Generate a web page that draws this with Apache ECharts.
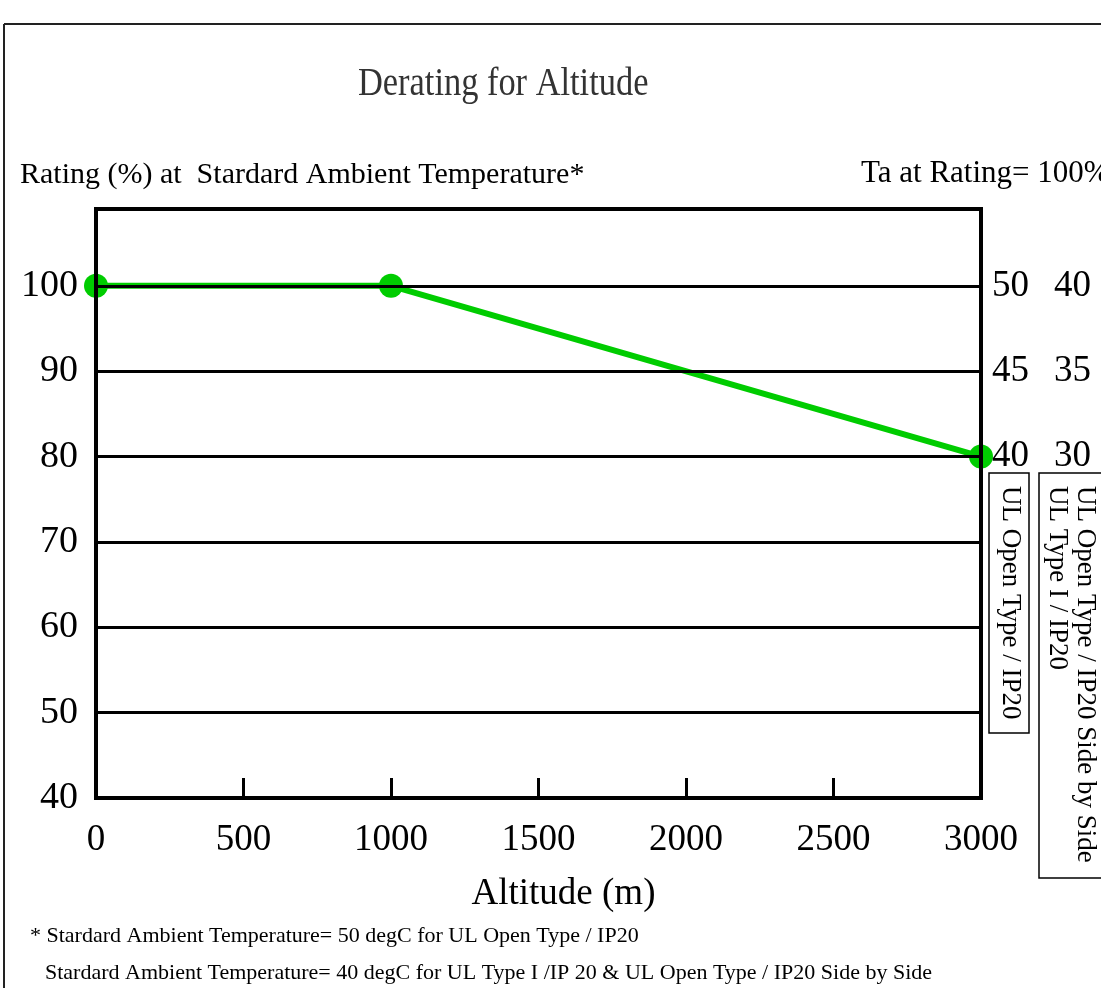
<!DOCTYPE html>
<html>
<head>
<meta charset="utf-8">
<script src="https://cdn.jsdelivr.net/npm/echarts@6/dist/echarts.min.js"></script>
<style>
  html, body { margin: 0; padding: 0; background: #fff; }
  #chart { width: 1101px; height: 988px; }
</style>
</head>
<body>
<div id="chart"></div>
<script>
// Derating curve: rating (%) versus altitude (m)
const altitudes = [0, 1000, 3000];
const ratings = [100, 100, 80];

// Axis ticks
const altitudeTicks = [0, 500, 1000, 1500, 2000, 2500, 3000];
const ratingTicks = [40, 50, 60, 70, 80, 90, 100];

// Ambient temperature at 100% rating, keyed by left-axis rating value
const taOpenType = { 100: '50', 90: '45', 80: '40' };
const taSideBySide = { 100: '40', 90: '35', 80: '30' };

const SERIF = '"Liberation Serif", "Times New Roman", serif';

const chart = echarts.init(document.getElementById('chart'), null, { renderer: 'canvas' });

const points = altitudes.map((a, i) => [a, ratings[i]]);

const option = {
  backgroundColor: '#ffffff',
  animation: false,
  grid: {
    left: 96, right: 120, top: 209, bottom: 190,
    show: true, borderColor: '#000', borderWidth: 4, backgroundColor: 'transparent'
  },
  xAxis: {
    type: 'value',
    min: altitudeTicks[0],
    max: altitudeTicks[altitudeTicks.length - 1],
    interval: 500,
    name: 'Altitude (m)',
    nameLocation: 'middle',
    nameGap: 78,
    nameTextStyle: { fontFamily: SERIF, fontSize: 37, color: '#000', padding: [0, 0, 0, 50] },
    axisLine: { show: true, lineStyle: { color: '#000', width: 4 } },
    axisTick: { show: true, inside: true, length: 20, lineStyle: { color: '#000', width: 3 } },
    axisLabel: {
      fontFamily: SERIF, fontSize: 37, color: '#000', margin: 24,
      formatter: v => String(v)
    },
    splitLine: { show: false },
    z: 3
  },
  yAxis: [
    {
      type: 'value',
      min: ratingTicks[0],
      max: 109,
      interval: 10,
      position: 'left',
      axisLine: { show: true, lineStyle: { color: '#000', width: 4 } },
      axisTick: { show: false },
      axisLabel: {
        fontFamily: SERIF, fontSize: 38, color: '#000', margin: 18,
        formatter: v => (ratingTicks.indexOf(v) >= 0 ? String(v) : '')
      },
      splitLine: {
        show: true,
        lineStyle: { color: '#000', width: 3 }
      },
      z: 3
    },
    {
      type: 'value',
      min: ratingTicks[0],
      max: 109,
      interval: 10,
      position: 'right',
      axisLine: { show: true, lineStyle: { color: '#000', width: 4 } },
      axisTick: { show: false },
      axisLabel: {
        margin: 11,
        align: 'left',
        formatter: v => (taOpenType[v] ? '{a|' + taOpenType[v] + '}{b|' + taSideBySide[v] + '}' : ''),
        rich: {
          a: { fontFamily: SERIF, fontSize: 37, color: '#000', width: 62 },
          b: { fontFamily: SERIF, fontSize: 37, color: '#000' }
        }
      },
      splitLine: { show: false },
      z: 3
    }
  ],
  series: [
    {
      type: 'line',
      data: points,
      yAxisIndex: 0,
      symbol: 'circle',
      symbolSize: 24,
      clip: false,
      lineStyle: { color: '#00cc00', width: 6 },
      itemStyle: { color: '#00cc00' },
      z: 2
    }
  ],
  graphic: [
    // page frame
    { type: 'line', shape: { x1: 4, y1: 24, x2: 1101, y2: 24 }, style: { stroke: '#222', lineWidth: 2 } },
    { type: 'line', shape: { x1: 4, y1: 24, x2: 4, y2: 988 }, style: { stroke: '#222', lineWidth: 2 } },
    // chart title, set in a narrow serif
    {
      type: 'text', x: 358, y: 84, scaleX: 0.86,
      style: { text: 'Derating for Altitude', font: '40px ' + SERIF, fill: '#333333', align: 'left', verticalAlign: 'middle' }
    },
    // upper left heading
    {
      type: 'text', left: 20, top: 160,
      style: { text: 'Rating (%) at  Stardard Ambient Temperature*', font: '30px ' + SERIF, fill: '#000' }
    },
    // upper right heading
    {
      type: 'text', left: 861, top: 158,
      style: { text: 'Ta at Rating= 100%', font: '31px ' + SERIF, fill: '#000' }
    },
    // legend boxes for the right-hand columns
    { type: 'rect', shape: { x: 989, y: 473, width: 40, height: 260 }, style: { fill: 'none', stroke: '#000', lineWidth: 1.5 } },
    { type: 'rect', shape: { x: 1039, y: 473, width: 80, height: 405 }, style: { fill: 'none', stroke: '#000', lineWidth: 1.5 } },
    {
      type: 'text', x: 1010, y: 486, rotation: -Math.PI / 2,
      style: { text: 'UL Open Type / IP20', font: '27px ' + SERIF, fill: '#000', align: 'left', verticalAlign: 'middle' }
    },
    {
      type: 'text', x: 1085, y: 486, rotation: -Math.PI / 2,
      style: { text: 'UL Open Type / IP20 Side by Side', font: '27px ' + SERIF, fill: '#000', align: 'left', verticalAlign: 'middle' }
    },
    {
      type: 'text', x: 1057, y: 486, rotation: -Math.PI / 2,
      style: { text: 'UL Type I / IP20', font: '27px ' + SERIF, fill: '#000', align: 'left', verticalAlign: 'middle' }
    },
    // footnotes
    {
      type: 'text', left: 30, top: 925,
      style: { text: '* Stardard Ambient Temperature= 50 degC for UL Open Type / IP20', font: '22px ' + SERIF, fill: '#000' }
    },
    {
      type: 'text', left: 45, top: 962,
      style: { text: 'Stardard Ambient Temperature= 40 degC for UL Type I /IP 20 & UL Open Type / IP20 Side by Side', font: '22px ' + SERIF, fill: '#000' }
    }
  ]
};

chart.setOption(option);
</script>
</body>
</html>
